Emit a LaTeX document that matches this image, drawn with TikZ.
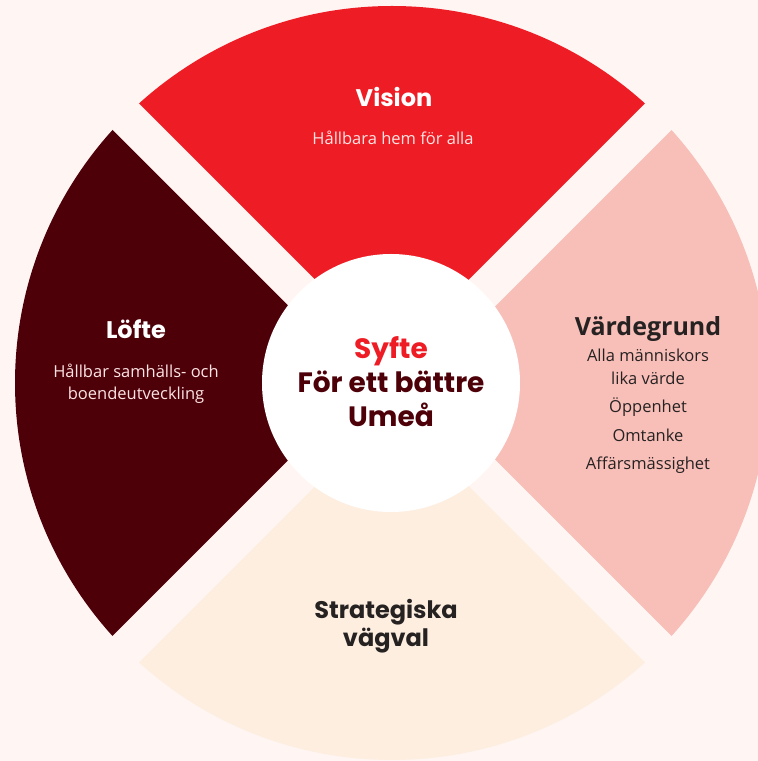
\documentclass[tikz,border=0pt]{standalone}
\usepackage{fontspec}
\setmainfont{Poppins}
\newfontfamily\bodyfont{Open Sans}
\usetikzlibrary{positioning}
\definecolor{umebg}{RGB}{255,246,243}
\definecolor{visionred}{RGB}{238,29,37}
\definecolor{loftered}{RGB}{78,0,8}
\definecolor{vardepink}{RGB}{248,190,184}
\definecolor{stratcream}{RGB}{253,238,224}
\definecolor{darktext}{RGB}{38,34,34}
\definecolor{softwhite}{RGB}{253,228,228}

\begin{document}
\begin{tikzpicture}[x=1pt, y=1pt,
    headtext/.style={font=\bfseries\fontsize{24}{28}\selectfont, anchor=base, inner sep=0pt},
    coretext/.style={font=\bfseries\fontsize{28}{32}\selectfont, anchor=base, inner sep=0pt, text=loftered},
    bodytext/.style={font=\bodyfont\fontsize{16.5}{20}\selectfont, anchor=base, inner sep=0pt}]
    \useasboundingbox (0,0) rectangle (758,761);
    \fill[umebg] (0,0) rectangle (758,761);
    \clip (0,0) rectangle (758,761);

    % four sectors, rotated round the middle
    \foreach \ang/\col in {0/visionred, 90/loftered, 180/stratcream, 270/vardepink} {
        \begin{scope}[shift={(392,378)}, rotate=\ang]
            \clip (0,26.5) -- (600,626.5) -- (-600,626.5) -- cycle;
            \fill[\col] (0,0) circle[radius=377pt];
        \end{scope}
    }
    \node[circle, fill=white, minimum size=258pt, inner sep=0pt] (core) at (391,378) {};

    % middle
    \node[coretext, text=visionred] (syfte) at (391,402) {Syfte};
    \node[coretext] (battre) at (391,368) {För ett bättre};
    \node[coretext] (umea) at (391,334) {Umeå};

    % top
    \node[headtext, text=white] (vision) at (394,654) {Vision};
    \node[bodytext, text=softwhite] (hem) at (393,616) {Hållbara hem för alla};

    % left
    \node[headtext, text=white] (lofte) at (136,422) {Löfte};
    \node[bodytext, text=softwhite] (samh) at (136,383) {Hållbar samhälls- och};
    \node[bodytext, text=softwhite] (boende) at (136,361) {boendeutveckling};

    % right
    \node[headtext, font=\bodyfont\bfseries\fontsize{25}{29}\selectfont, text=darktext] (varde) at (648,425) {Värdegrund};
    \node[bodytext, text=darktext] (alla) at (648,399) {Alla människors};
    \node[bodytext, text=darktext] (lika) at (648,376) {lika värde};
    \node[bodytext, text=darktext] (oppen) at (648,348) {Öppenhet};
    \node[bodytext, text=darktext] (omtanke) at (648,319) {Omtanke};
    \node[bodytext, text=darktext] (affar) at (648,291) {Affärsmässighet};

    % bottom
    \node[headtext, text=darktext] (strat) at (386,142) {Strategiska};
    \node[headtext, text=darktext] (vagval) at (386,114) {vägval};
\end{tikzpicture}
\end{document}
